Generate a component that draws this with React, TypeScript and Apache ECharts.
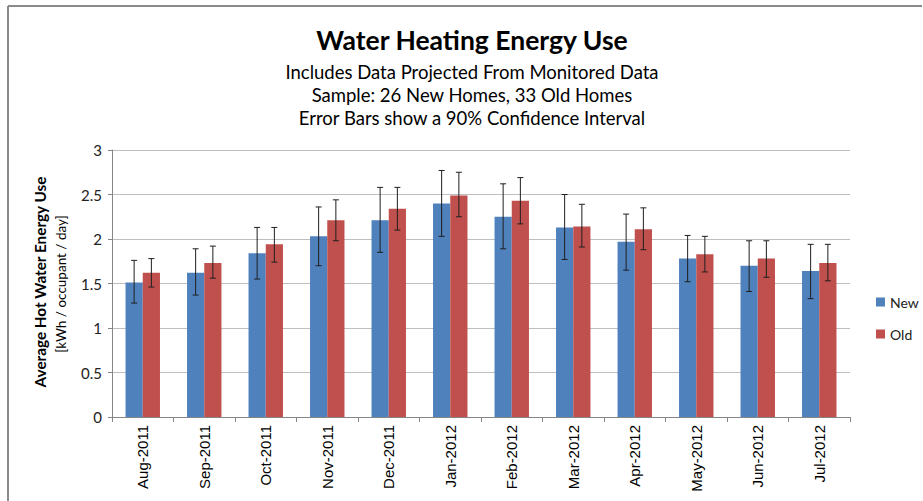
import React, { useEffect, useRef } from "react";
import * as echarts from "echarts";

const categories = ["Aug-2011", "Sep-2011", "Oct-2011", "Nov-2011", "Dec-2011", "Jan-2012", "Feb-2012", "Mar-2012", "Apr-2012", "May-2012", "Jun-2012", "Jul-2012"];
const newValues = [1.51, 1.62, 1.84, 2.03, 2.21, 2.40, 2.25, 2.13, 1.97, 1.78, 1.70, 1.64];
const oldValues = [1.62, 1.73, 1.94, 2.21, 2.34, 2.49, 2.43, 2.14, 2.11, 1.83, 1.78, 1.73];
const newLow = [1.28, 1.37, 1.55, 1.70, 1.85, 2.03, 1.89, 1.77, 1.65, 1.52, 1.41, 1.33];
const newHigh = [1.76, 1.89, 2.13, 2.36, 2.58, 2.77, 2.62, 2.50, 2.28, 2.04, 1.98, 1.94];
const oldLow = [1.46, 1.56, 1.74, 1.98, 2.10, 2.25, 2.17, 1.91, 1.88, 1.63, 1.57, 1.53];
const oldHigh = [1.78, 1.92, 2.13, 2.44, 2.58, 2.75, 2.69, 2.39, 2.35, 2.03, 1.98, 1.94];
const yTicks = { min: 0, max: 3, interval: 0.5 };

const titleText = "Water Heating Energy Use";
const subtitleLines = [
  "Includes Data Projected From Monitored Data",
  "Sample: 26 New Homes, 33 Old Homes",
  "Error Bars show a 90% Confidence Interval",
];

const BAR_FRACTION = 0.56;
const FONT = "Lato, 'Open Sans', sans-serif";

function errorRenderer(sign: number) {
  return (params: any, api: any) => {
    const i = api.value(0);
    const lo = api.coord([i, api.value(1)]);
    const hi = api.coord([i, api.value(2)]);
    const bw = (api.size([1, 0])[0] * BAR_FRACTION) / 2;
    const x = lo[0] + (sign * bw) / 2;
    const cap = 3;
    const style = { stroke: "#1f1f1f", lineWidth: 1 };
    return {
      type: "group",
      children: [
        { type: "line", shape: { x1: x, y1: lo[1], x2: x, y2: hi[1] }, style },
        { type: "line", shape: { x1: x - cap, y1: lo[1], x2: x + cap, y2: lo[1] }, style },
        { type: "line", shape: { x1: x - cap, y1: hi[1], x2: x + cap, y2: hi[1] }, style },
      ],
    };
  };
}

export default function App() {
  const ref = useRef<HTMLDivElement>(null);
  useEffect(() => {
    if (!ref.current) return;
    const chart = echarts.init(ref.current, null, { renderer: "svg" });
    const newErr = categories.map((_, i) => [i, newLow[i], newHigh[i]]);
    const oldErr = categories.map((_, i) => [i, oldLow[i], oldHigh[i]]);
    chart.setOption({
      animation: false,
      backgroundColor: "#ffffff",
      grid: { left: 112, right: 73, top: 150, bottom: 84 },
      legend: {
        data: ["New", "Old"],
        orient: "vertical",
        left: 876,
        top: 295,
        itemWidth: 9,
        itemHeight: 9,
        itemGap: 18,
        icon: "rect",
        padding: 0,
        textStyle: { fontFamily: FONT, fontSize: 14, color: "#222" },
      },
      graphic: [
        { type: "line", shape: { x1: 8, y1: 6, x2: 922, y2: 6 }, style: { stroke: "#8a8a8a", lineWidth: 2 } },
        { type: "line", shape: { x1: 8, y1: 6, x2: 8, y2: 501 }, style: { stroke: "#8a8a8a", lineWidth: 2 } },
        {
          type: "text",
          x: 472,
          y: 40,
          style: { text: titleText, align: "center", verticalAlign: "middle", font: `bold 26.5px ${FONT}`, fill: "#000" },
        },
        ...subtitleLines.map((t, k) => ({
          type: "text",
          x: 472,
          y: 72 + k * 23,
          style: { text: t, align: "center", verticalAlign: "middle", font: `18.5px ${FONT}`, fill: "#000" },
        })),
        {
          type: "text",
          x: 40,
          y: 282,
          rotation: Math.PI / 2,
          style: { text: "Average Hot Water Energy Use", align: "center", verticalAlign: "middle", font: `bold 15.3px ${FONT}`, fill: "#000" },
        },
        {
          type: "text",
          x: 61,
          y: 284,
          rotation: Math.PI / 2,
          style: { text: "[kWh / occupant / day]", align: "center", verticalAlign: "middle", font: `13.5px ${FONT}`, fill: "#000" },
        },
      ],
      xAxis: {
        type: "category",
        data: categories,
        axisLine: { lineStyle: { color: "#868686" } },
        axisTick: { show: true, length: 5, lineStyle: { color: "#868686" } },
        axisLabel: { rotate: 90, margin: 8, fontFamily: "'Liberation Sans', Arial, sans-serif", fontSize: 15, color: "#000" },
      },
      yAxis: {
        type: "value",
        min: yTicks.min,
        max: yTicks.max,
        interval: yTicks.interval,
        axisLine: { show: true, lineStyle: { color: "#868686" } },
        axisTick: { show: true, length: 4, lineStyle: { color: "#868686" } },
        axisLabel: { margin: 10, fontFamily: FONT, fontSize: 15, color: "#222" },
        splitLine: { lineStyle: { color: "#bebebe" } },
      },
      series: [
        {
          name: "New",
          type: "bar",
          data: newValues,
          barGap: "0%",
          barCategoryGap: "44%",
          itemStyle: { color: "#4f81bd" },
        },
        {
          name: "Old",
          type: "bar",
          data: oldValues,
          itemStyle: { color: "#c0504d" },
        },
        {
          name: "NewErr",
          type: "custom",
          data: newErr,
          encode: { x: 0, y: [1, 2] },
          renderItem: errorRenderer(-1),
          z: 5,
        },
        {
          name: "OldErr",
          type: "custom",
          data: oldErr,
          encode: { x: 0, y: [1, 2] },
          renderItem: errorRenderer(1),
          z: 5,
        },
      ],
    });
    return () => chart.dispose();
  }, []);
  return <div ref={ref} style={{ position: "absolute", left: 0, top: 0, width: 923, height: 501 }} />;
}
